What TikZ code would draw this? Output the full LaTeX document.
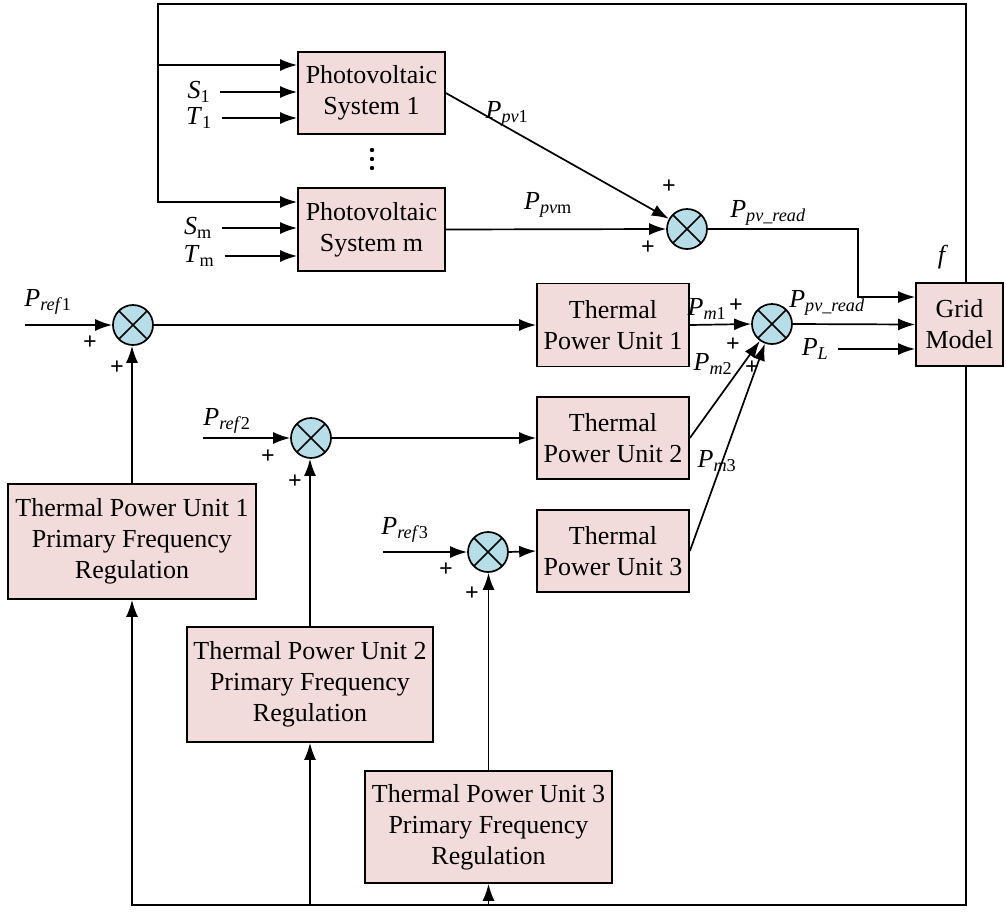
\documentclass[tikz,border=0pt]{standalone}
\usepackage{fontspec}
\setmainfont{Liberation Serif}
\usetikzlibrary{arrows.meta}
\definecolor{boxpink}{RGB}{242,220,219}
\definecolor{sumblue}{RGB}{183,222,232}
\newcommand{\sig}[2]{\textit{#1}\textsubscript{#2}}

\begin{document}
\begin{tikzpicture}[x=1pt, y=-1pt, line width=1.7pt,
    every node/.style={font=\fontsize{26}{31}\selectfont},
    block/.style={draw, fill=boxpink, align=center, inner sep=0pt},
    sumj/.style={draw, circle, fill=sumblue, minimum size=40pt, inner sep=0pt,
        path picture={\draw[line width=1.7pt] (path picture bounding box.north west) -- (path picture bounding box.south east)
            (path picture bounding box.north east) -- (path picture bounding box.south west);}},
    arr/.style={-{Latex[length=17pt,width=12pt]}},
    sgn/.style={font=\fontsize{24}{24}\selectfont\bfseries, inner sep=0pt}]

\useasboundingbox (0,0) rectangle (1006,916);

\node[block, minimum width=147, minimum height=82] (pv1) at (371.5,93) {Photovoltaic\\System 1};
\node[block, minimum width=147, minimum height=83] (pvm) at (371.5,229.5) {Photovoltaic\\System m};
\node[block, minimum width=152, minimum height=83] (tpu1) at (613,325) {Thermal\\Power Unit 1};
\node[block, minimum width=152, minimum height=82] (tpu2) at (613,438) {Thermal\\Power Unit 2};
\node[block, minimum width=152, minimum height=82] (tpu3) at (613,551) {Thermal\\Power Unit 3};
\node[block, minimum width=87, minimum height=83] (grid) at (959.5,324.5) {Grid\\Model};
\node[block, minimum width=248, minimum height=115] (pfr1) at (132,541.5) {Thermal Power Unit 1\\Primary Frequency\\Regulation};
\node[block, minimum width=246, minimum height=115] (pfr2) at (310,684.5) {Thermal Power Unit 2\\Primary Frequency\\Regulation};
\node[block, minimum width=247, minimum height=112] (pfr3) at (488.5,827) {Thermal Power Unit 3\\Primary Frequency\\Regulation};
\foreach \dy in {150,159,168}
    \fill (372,\dy) circle (2.2);

\node[sumj] (sumpv) at (687,229) {};
\node[sumj] (sum1) at (133,325) {};
\node[sumj] (sum2) at (311,438) {};
\node[sumj] (sum3) at (488,552) {};
\node[sumj] (sumg) at (772,324) {};

\node (s1) at (199,92) {\sig{S}{1}};
\node (t1) at (199,118) {\sig{T}{1}};
\node (sm) at (198,228) {\sig{S}{m}};
\node (tm) at (199,256) {\sig{T}{m}};
\node (ppv1) at (507,114) {\sig{P}{\textit{pv}1}};
\node (ppvm) at (548,205) {\sig{P}{\textit{pv}m}};
\node (pread1) at (768,213) {\sig{P}{\textit{pv\_read}}};
\node (pread2) at (827,303) {\sig{P}{\textit{pv\_read}}};
\node (pl) at (815,349) {\sig{P}{\textit{L}}};
\node (f) at (943,257) {\textit{f}};
\node (pref1) at (48,302) {\sig{P}{\textit{ref}1}};
\node (pref2) at (227,421) {\sig{P}{\textit{ref}2}};
\node (pref3) at (405,530) {\sig{P}{\textit{ref}3}};
\node (pm1) at (707,309) {\sig{P}{\textit{m}1}};
\node (pm2) at (713,364) {\sig{P}{\textit{m}2}};
\node (pm3) at (717,461) {\sig{P}{\textit{m}3}};

\node[sgn] (pvp1) at (669,187) {+};
\node[sgn] (pvp2) at (648,248) {+};
\node[sgn] (gp1) at (736,306) {+};
\node[sgn] (gp2) at (733,345) {+};
\node[sgn] (gp3) at (752,368) {+};
\node[sgn] (p1a) at (90,343) {+};
\node[sgn] (p1b) at (117,368) {+};
\node[sgn] (p2a) at (268,457) {+};
\node[sgn] (p2b) at (295,482) {+};
\node[sgn] (p3a) at (446,570) {+};
\node[sgn] (p3b) at (472,594) {+};

\coordinate (tl) at (158,4);
\coordinate (fb) at (966,905);
\coordinate (pvbend) at (858,229);
\coordinate (ref1in) at (25,325);
\coordinate (ref2in) at (203,438);
\coordinate (ref3in) at (383,552);

\draw[arr] (grid.north -| fb) |- (tl) |- ([yshift=27.5]pvm.west);
\draw[arr] ([yshift=28]pv1.west -| tl) -- ([yshift=28]pv1.west);
\draw[arr] ([xshift=6]s1.east) -- (s1 -| pv1.west);
\draw[arr] ([xshift=6]t1.east) -- (t1 -| pv1.west);
\draw[arr] ([xshift=6]sm.east) -- (sm -| pvm.west);
\draw[arr] ([xshift=6]tm.east) -- (tm -| pvm.west);

\draw[arr] (pv1.east) -- (sumpv);
\draw[arr] (pvm.east) -- (sumpv.west);
\draw[arr] (sumpv.east) -- (pvbend) |- ([yshift=27.5]grid.west);

\draw[arr] (ref1in) -- (sum1.west);
\draw[arr] (sum1.east) -- (tpu1.west);
\draw[arr] (ref2in) -- (sum2.west);
\draw[arr] (sum2.east) -- (tpu2.west);
\draw[arr] (ref3in) -- (sum3.west);
\draw[arr] (sum3.east) -- (tpu3.west);

\draw[arr] (pfr1.north) -- (pfr1.north |- sum1.south);
\draw[arr] (pfr2.north) -- (pfr2.north |- sum2.south);
\draw[arr] (pfr3.north) -- (pfr3.north |- sum3.south);

\draw[arr] (tpu1.east) -- (sumg.west);
\draw[arr] (tpu2.east) -- (sumg);
\draw[arr] (tpu3.east) -- (sumg);
\draw[arr] (sumg.east) -- (grid.west);
\draw[arr] ([xshift=6]pl.east) -- (pl -| grid.west);

\draw[arr] (grid.south -| fb) -- (fb) -| (pfr1.south);
\draw[arr] (pfr2.south |- fb) -- (pfr2.south);
\draw[arr] (pfr3.south |- fb) -- (pfr3.south);
\end{tikzpicture}
\end{document}
